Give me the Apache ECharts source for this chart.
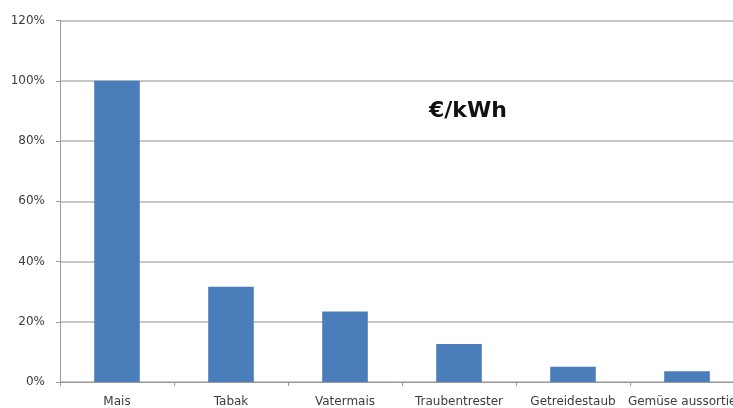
<!DOCTYPE html>
<html>
<head>
<meta charset="utf-8">
<script src="https://cdn.jsdelivr.net/npm/echarts@6/dist/echarts.min.js"></script>
<style>
  html, body { margin: 0; padding: 0; background: #fff; }
  #chart { width: 733px; height: 408px; }
</style>
</head>
<body>
<div id="chart"></div>
<script>
// Relative energy cost per substrate (share of maize), in percent
const categories = ['Mais', 'Tabak', 'Vatermais', 'Traubentrester', 'Getreidestaub', 'Gemüse aussortiert'];
const values = [100, 31.6, 23.4, 12.6, 5.1, 3.6];
const unitLabel = '€/kWh';

const chart = echarts.init(document.getElementById('chart'));
chart.setOption({
  animation: false,
  grid: { left: 60, width: 684, top: 20.5, bottom: 26, outerBoundsMode: 'none', containLabel: false },
  graphic: [{
    type: 'text',
    left: 429,
    top: 100,
    style: { text: unitLabel, font: 'bold 22px "DejaVu Sans", sans-serif', fill: '#111' }
  }],
  xAxis: {
    type: 'category',
    data: categories,
    axisLine: { lineStyle: { color: '#9a9a9a', width: 1 } },
    axisTick: { show: true, length: 4, lineStyle: { color: '#9a9a9a' } },
    axisLabel: { color: '#3c3c3c', fontSize: 12, fontFamily: '"DejaVu Sans", sans-serif', margin: 14, interval: 0, hideOverlap: false }
  },
  yAxis: {
    type: 'value',
    min: 0,
    max: 120,
    interval: 20,
    axisLine: { show: true, lineStyle: { color: '#9a9a9a', width: 1 } },
    axisTick: { show: true, length: 4, lineStyle: { color: '#9a9a9a' } },
    axisLabel: { color: '#3c3c3c', fontSize: 12, fontFamily: '"DejaVu Sans", sans-serif', margin: 15, formatter: '{value}%' },
    splitLine: { lineStyle: { color: '#b4b4b4', width: 1.5 } }
  },
  series: [{
    type: 'bar',
    data: values,
    barWidth: '40%',
    itemStyle: { color: '#4a7ebb' }
  }]
});
</script>
</body>
</html>
